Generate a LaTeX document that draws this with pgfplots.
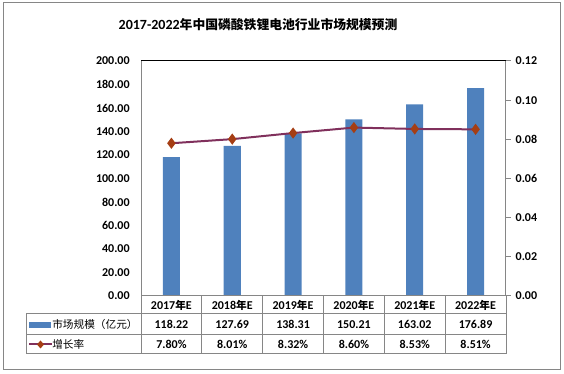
\documentclass[border=0pt]{standalone}
\usepackage{pgfplots}
\pgfplotsset{compat=1.18}
\usepackage{fontspec}
\setmainfont{Carlito}
\newfontfamily\cjk{Noto Sans CJK SC}
\definecolor{barblue}{RGB}{79,129,189}
\definecolor{linepur}{RGB}{128,48,92}
\definecolor{mk}{RGB}{165,62,20}
\definecolor{gridg}{RGB}{134,134,134}

\pgfplotstableread{
x  val     rate
0  118.22  0.0780
1  127.69  0.0801
2  138.31  0.0832
3  150.21  0.0860
4  163.02  0.0853
5  176.89  0.0851
}\datatab

\begin{document}
\begin{tikzpicture}[x=0.75pt,y=0.75pt]
\useasboundingbox (0,0) rectangle (564,374);
\draw[gridg, line width=0.75pt] (3,4) rectangle (560,371);
\node[font=\bfseries\fontsize{10.5}{12}\selectfont] at (258,349) {2017-2022{\cjk\fontsize{9.6}{12}\selectfont 年中国磷酸铁锂电池行业市场规模预测}};

\begin{axis}[
  at={(105.75pt,58.5pt)}, anchor=south west, scale only axis,
  width=273.75pt, height=176.25pt,
  xmin=-0.5, xmax=5.5, ymin=0, ymax=200,
  xtick=\empty,
  ytick={0,20,...,200},
  major tick length=0pt,
  axis line style={draw=none},
  yticklabel={\pgfmathprintnumber[fixed,zerofill,precision=2,assume math mode=true]{\tick}},
  yticklabel style={font=\bfseries\fontsize{9}{10}\selectfont, xshift=-5pt},
  clip=false,
]
\addplot[ybar, bar width=12.75pt, fill=barblue, draw=none] table[x=x,y=val]{\datatab};
\draw[gridg, line width=0.75pt] (rel axis cs:0,0) -- (rel axis cs:0,1);
\draw[gridg, line width=0.75pt] (rel axis cs:0,0) -- (rel axis cs:1,0);
\draw[black, line width=0.75pt] (rel axis cs:0,1) -- (rel axis cs:1,1);
\end{axis}

\begin{axis}[
  at={(105.75pt,58.5pt)}, anchor=south west, scale only axis,
  width=273.75pt, height=176.25pt,
  xmin=-0.5, xmax=5.5, ymin=0, ymax=0.12,
  axis x line=none,
  axis y line*=right,
  y axis line style={gridg, line width=0.75pt, -},
  ytick={0,0.02,0.04,0.06,0.08,0.10,0.12},
  tick align=outside,
  major tick length=3.75pt,
  tick style={gridg, line width=0.75pt},
  yticklabel={\pgfmathprintnumber[fixed,zerofill,precision=2,assume math mode=true]{\tick}},
  yticklabel style={font=\bfseries\fontsize{9}{10}\selectfont},
]
\addplot[linepur, line width=1.5pt, mark=diamond*, mark size=3pt,
  mark options={fill=mk, draw=mk}] table[x=x,y=rate]{\datatab};
\end{axis}

% data table grid
\begin{scope}[gridg, line width=0.75pt]
\foreach \k in {0,...,6} { \draw (141+60.833*\k,78) -- (141+60.833*\k,20); }
\draw (26,60) -- (26,20);
\draw (26,60) -- (506,60);
\draw (26,39) -- (506,39);
\draw (26,20) -- (506,20);
\end{scope}

% legend keys
\fill[barblue] (29,46) rectangle (51,52);
\draw[linepur, line width=1.5pt] (29,29.5) -- (52,29.5);
\fill[mk] (40.5,33.5) -- (44,29.5) -- (40.5,25.5) -- (37,29.5) -- cycle;
\node[anchor=west, inner sep=0pt, font=\cjk\fontsize{8}{10}\selectfont] at (52,49.5) {市场规模（亿元）};
\node[anchor=west, inner sep=0pt, font=\cjk\fontsize{8}{10}\selectfont] at (52,29.5) {增长率};

% table text
\foreach \lab/\v/\r [count=\i from 0] in {
  2017/118.22/7.80,
  2018/127.69/8.01,
  2019/138.31/8.32,
  2020/150.21/8.60,
  2021/163.02/8.53,
  2022/176.89/8.51} {
  \node[font=\bfseries\fontsize{9}{10}\selectfont] at (171.4+60.833*\i,69) {\lab{\cjk\fontsize{8}{10}\selectfont 年}E};
  \node[font=\bfseries\fontsize{9}{10}\selectfont] at (171.4+60.833*\i,49.5) {\v};
  \node[font=\bfseries\fontsize{9}{10}\selectfont] at (171.4+60.833*\i,29.5) {\r\%};
}
\end{tikzpicture}
\end{document}
